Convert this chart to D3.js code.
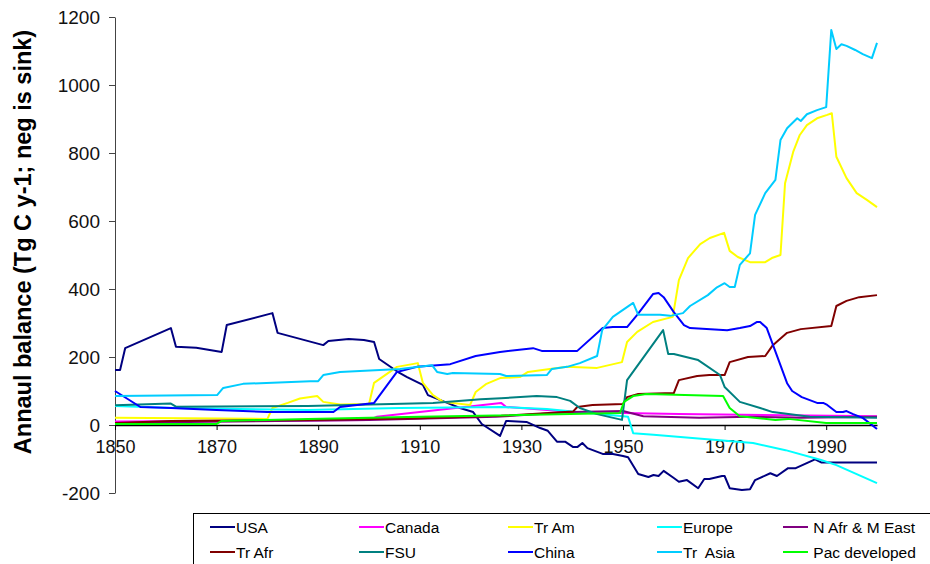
<!DOCTYPE html>
<html>
<head>
<meta charset="utf-8">
<script src="https://cdnjs.cloudflare.com/ajax/libs/d3/7.8.5/d3.min.js"></script>
<style>
  html, body { margin: 0; padding: 0; background: #fff; }
  svg text { font-family: 'Liberation Sans', Arial, sans-serif; }
</style>
</head>
<body>
<svg id="svg"></svg>
<script>
// [year, Tg C / yr]
const usa = [[1850,162],[1851,162],[1852,226],[1861,285],[1862,230],[1866,227],[1871,215],[1872,294],[1881,329],[1882,271],[1891,235],[1892,247],[1896,253],[1899,250],[1901,244],[1902,194],[1906,153],[1907.5,141],[1910.6,118],[1911.6,88],[1915.4,65],[1917.9,50],[1920.5,38],[1922.2,3],[1925.8,-32],[1927,12],[1931,9],[1933.7,-9],[1935.2,-17],[1937,-49],[1938.6,-49],[1940.2,-65],[1941,-65],[1942,-53],[1943,-68],[1946,-85],[1948,-85],[1950,-91],[1951,-95],[1953,-144],[1955,-153],[1956,-147],[1957,-150],[1958,-135],[1960,-156],[1961,-167],[1962.6,-162],[1964.8,-186],[1966,-159],[1967,-159],[1969.5,-150],[1970,-150],[1971,-186],[1973.4,-191],[1975,-189],[1976,-162],[1979,-142],[1980.3,-150],[1982.5,-127],[1984,-127],[1987.8,-101],[1989,-110],[2000,-110]]
const canada = [[1850,10],[1900,15],[1901.5,24],[1926,65],[1927,53],[1940.2,38],[1950,35],[1961,32],[2000,26]]
const trAm = [[1850,21],[1880,18],[1881,50],[1884,65],[1886.4,78],[1889.8,85],[1891,68],[1894.3,60],[1900,62],[1901,124],[1905.5,171],[1909.6,182],[1910.6,124],[1912.6,88],[1914.6,68],[1919.9,59],[1921,97],[1923,120],[1925.8,138],[1929.7,141],[1931.3,156],[1935.6,165],[1939,171],[1944.9,168],[1949.8,185],[1950.8,244],[1952.8,274],[1955.9,303],[1959.8,318],[1961,426],[1962.8,491],[1965.2,532],[1967.1,550],[1969.9,565],[1971,512],[1972.6,494],[1975,479],[1978,479],[1979.3,491],[1981,500],[1981.9,711],[1983.5,803],[1984.8,853],[1986.2,882],[1988.2,902],[1990.2,912],[1991.1,917],[1992,789],[1994,726],[1996,682],[1998,662],[2000,641]]
const europe = [[1850,56],[1862,50],[1888,44],[1906,50],[1926,53],[1935,47],[1941,38],[1950,26],[1951,24],[1952,-24],[1956,-29],[1966,-41],[1975.6,-53],[1982,-74],[1989,-103],[1992,-118],[1995,-138],[2000,-171]]
const nAfrMEast = [[1850,5],[1860,8],[1900,15],[1925,24],[1940,38],[1950,41],[1954,26],[1965,21],[1975,24],[1985,21],[2000,24]]
const trAfr = [[1850,6],[1861,12],[1888,15],[1910,20],[1926,27],[1940.2,40],[1941,53],[1944,59],[1950,62],[1950.8,82],[1953,91],[1960,94],[1961,132],[1964.6,144],[1967,147],[1970,147],[1971,185],[1974.6,200],[1978,203],[1979.5,235],[1980,241],[1982.3,271],[1985,282],[1991,291],[1992,350],[1994,365],[1996.5,376],[2000,382]]
const fsu = [[1850,58],[1861,63],[1862,54],[1888,56],[1912.6,65],[1922,76],[1926,79],[1933,85],[1937,82],[1939.6,71],[1941.5,50],[1944.9,32],[1949.8,15],[1950.8,132],[1957.9,279],[1958.9,209],[1960,209],[1964.8,191],[1969.1,147],[1970,112],[1973,68],[1977,50],[1979.5,38],[1986.8,24],[2000,21]]
const china = [[1850,100],[1855,53],[1861,50],[1870,44],[1880,38],[1893,38],[1894.3,53],[1901,65],[1905.5,156],[1909.4,171],[1913.4,176],[1916,179],[1921,203],[1925.8,215],[1932.3,226],[1934,218],[1941,218],[1946,285],[1948,288],[1950.8,288],[1952.8,324],[1955.9,385],[1957,388],[1958,376],[1960,332],[1962,294],[1963.2,285],[1970.5,279],[1973,285],[1975,291],[1976.4,303],[1977,303],[1978.3,285],[1982.3,123],[1983.3,100],[1985.2,82],[1988.2,65],[1989.4,65],[1990.2,59],[1992,38],[1993.3,38],[1994,41],[1995.3,32],[1997.2,21],[2000,-12]]
const trAsia = [[1850,85],[1870.1,88],[1871.3,109],[1875.2,121],[1888.4,129],[1890,129],[1891,147],[1894.3,156],[1906.1,165],[1912.4,176],[1913.4,156],[1915.4,150],[1916.5,153],[1925.8,150],[1927,144],[1935,147],[1936,165],[1939,171],[1941.5,182],[1944.9,203],[1945.9,279],[1948,318],[1952,359],[1953,324],[1957.3,324],[1959.3,321],[1961.8,329],[1963.2,350],[1966.7,382],[1968.5,405],[1970,417],[1971,406],[1972,406],[1973,471],[1975,505],[1976,618],[1978,682],[1980,721],[1981,838],[1982.3,873],[1984.3,902],[1985,894],[1986.2,914],[1988.2,926],[1990,935],[1991,1162],[1992,1106],[1993,1120],[1994,1115],[1995.7,1103],[1997.2,1091],[1999,1079],[2000,1124]]
const pacDeveloped = [[1850,3],[1870,3],[1871,12],[1888,18],[1910,24],[1949.4,35],[1950.2,68],[1952,85],[1954.6,91],[1969.7,85],[1971,50],[1973,26],[1980,15],[1982.5,18],[1990,6],[2000,6]]

const seriesNames = ['USA', 'Canada', 'Tr Am', 'Europe', ' N Afr & M East', 'Tr Afr', 'FSU', 'China', 'Tr  Asia', ' Pac developed']
const seriesColors = ['#000080', '#ff00ff', '#ffff00', '#00ffff', '#800080', '#800000', '#008080', '#0000ff', '#00ccff', '#00ff00']
const seriesData = [usa, canada, trAm, europe, nAfrMEast, trAfr, fsu, china, trAsia, pacDeveloped]

const xTicks = [1850, 1870, 1890, 1910, 1930, 1950, 1970, 1990]
const yTicks = [-200, 0, 200, 400, 600, 800, 1000, 1200]

const svg = d3.select('#svg').attr('width', 930).attr('height', 564)

const x = d3.scaleLinear().domain([1850, 2000]).range([115, 877])
const y = d3.scaleLinear().domain([-200, 1200]).range([493, 17])

// y axis
const yAxis = svg.append('g')
    .attr('transform', 'translate(115,0)')
    .call(d3.axisLeft(y).tickValues(yTicks).tickSize(6).tickPadding(9).tickSizeOuter(0).tickFormat(d => String(d)))
yAxis.select('.domain').attr('stroke', '#444')
yAxis.selectAll('.tick line').attr('stroke', '#444')
yAxis.selectAll('.tick text')
    .attr('font-family', 'Liberation Sans, Arial, sans-serif')
    .attr('font-size', 19)
    .attr('fill', '#111')

// x axis on the zero line
const xAxis = svg.append('g')
    .attr('transform', `translate(0,${y(0)})`)
    .call(d3.axisBottom(x).tickValues(xTicks).tickSize(5).tickPadding(10).tickSizeOuter(0).tickFormat(d => String(d)))
xAxis.select('.domain').attr('stroke', '#000').attr('stroke-width', 1.3)
xAxis.selectAll('.tick line').attr('stroke', '#000')
xAxis.selectAll('.tick text')
    .attr('font-family', 'Liberation Sans, Arial, sans-serif')
    .attr('font-size', 18)
    .attr('fill', '#111')

// axis title
svg.append('text')
    .text('Annaul balance (Tg C y-1; neg is sink)')
    .attr('font-size', 23.5)
    .attr('font-weight', 'bold')
    .attr('fill', '#000')
    .attr('text-anchor', 'middle')
    .attr('transform', 'translate(31,242) rotate(-90)')

// series
const line = d3.line().x(d => x(d[0])).y(d => y(d[1]))
seriesData.forEach((data, i) => {
    svg.append('path')
        .attr('d', line(data))
        .attr('fill', 'none')
        .attr('stroke', seriesColors[i])
        .attr('stroke-width', 2)
        .attr('stroke-linejoin', 'round')
})

// legend
svg.append('rect')
    .attr('x', 193.5).attr('y', 513.5)
    .attr('width', 760).attr('height', 60)
    .attr('fill', '#fff')
    .attr('stroke', '#000')
    .attr('stroke-width', 1)

const legendCols = [210, 359, 508, 657, 783]
seriesNames.forEach((name, i) => {
    const lx = legendCols[i % 5]
    const ly = 527 + Math.floor(i / 5) * 25
    svg.append('line')
        .attr('x1', lx).attr('x2', lx + 25)
        .attr('y1', ly).attr('y2', ly)
        .attr('stroke', seriesColors[i])
        .attr('stroke-width', 2)
    svg.append('text')
        .text(name)
        .attr('x', lx + 26)
        .attr('y', ly + 5.5)
        .attr('font-size', 15.5)
        .attr('fill', '#000')
        .style('white-space', 'pre')
})
</script>
</body>
</html>
